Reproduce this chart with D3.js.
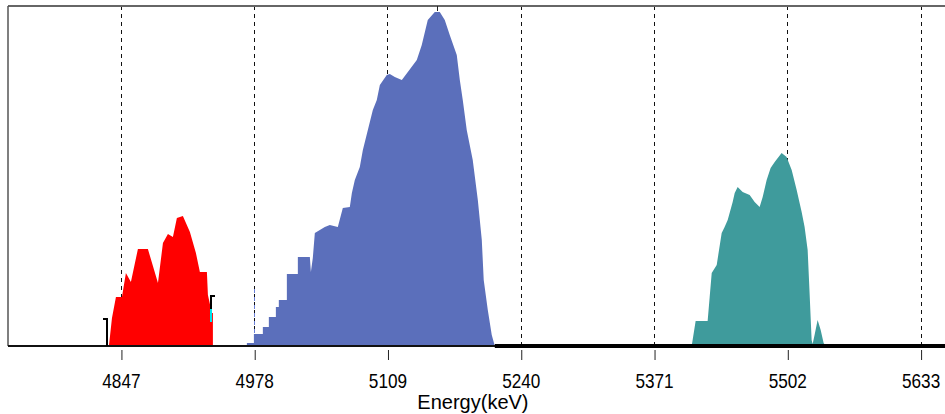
<!DOCTYPE html>
<html>
<head>
<meta charset="utf-8">
<script src="https://cdn.jsdelivr.net/npm/d3@7"></script>
<style>
  html, body { margin: 0; padding: 0; background: #fff; }
  svg { display: block; }
  text { font-family: "Liberation Sans", Arial, sans-serif; }
</style>
</head>
<body>
<svg id="chart" width="945" height="414"></svg>
<script>
// ---------- data ----------
const tickLabels = [4847, 4978, 5109, 5240, 5371, 5502, 5633];
const xTitle = "Energy(keV)";

// peak 1 (red)
const redEnergy = [4835.2, 4838.2, 4842.1, 4848.0, 4851.9, 4856.8, 4863.7, 4873.5, 4883.4, 4888.3, 4893.2, 4898.1, 4902.0, 4907.9, 4914.8, 4920.7, 4924.6, 4931.5, 4932.5, 4936.4, 4937.4, 4937.4];
const redCounts = [0, 84, 147, 147, 219, 192, 291, 291, 189, 309, 336, 327, 384, 390, 342, 279, 222, 222, 153, 99, 99, 0];

// peak 2 (blue)
const blueEnergy = [4970.8, 4970.8, 4977.7, 4977.7, 4986.5, 4986.5, 4992.4, 4992.4, 4999.3, 4999.3, 5002.2, 5002.2, 5010.1, 5010.1, 5020.9, 5020.9, 5032.7, 5033.7, 5035.6, 5037.6, 5047.4, 5052.3, 5060.2, 5065.1, 5072.0, 5074.0, 5076.9, 5081.8, 5084.8, 5089.7, 5094.6, 5098.5, 5101.5, 5108.3, 5111.3, 5116.2, 5123.1, 5129.0, 5137.8, 5142.7, 5148.6, 5155.5, 5160.4, 5165.3, 5170.2, 5177.1, 5180.1, 5183.0, 5186.9, 5192.8, 5197.8, 5201.7, 5203.6, 5207.6, 5211.5, 5214.5];
const blueCounts = [0, 9, 9, 36, 36, 57, 57, 87, 87, 117, 117, 138, 138, 216, 216, 267, 267, 222, 264, 339, 357, 363, 357, 414, 417, 459, 498, 537, 588, 648, 708, 738, 783, 813, 816, 807, 798, 822, 858, 903, 978, 1002, 1002, 978, 933, 873, 798, 738, 648, 558, 438, 318, 198, 108, 33, 0];

// peak 3 (teal)
const tealEnergy = [5408.0, 5411.9, 5423.7, 5425.7, 5427.7, 5432.6, 5437.5, 5440.4, 5443.4, 5448.3, 5450.3, 5453.2, 5458.1, 5465.0, 5469.9, 5474.8, 5477.8, 5481.7, 5485.6, 5489.6, 5496.4, 5501.3, 5506.3, 5511.2, 5516.1, 5519.0, 5522.0, 5523.9, 5525.9, 5526.9, 5528.8, 5531.8, 5534.8, 5537.7, 5539.7];
const tealCounts = [0, 75, 75, 147, 219, 243, 339, 357, 378, 432, 459, 477, 462, 453, 432, 417, 447, 498, 534, 552, 579, 567, 528, 468, 402, 357, 288, 159, 18, 6, 33, 78, 48, 9, 0];

// region-of-interest markers
const roiLeft = [4833.2, 81];          // energy, top count  ("]")
const roiRight = [4935.4, 150, 72];    // energy, top count, bottom count ("[")
const roiCyan = [4935.4, 72, 111];     // energy, from count, to count
const roiBlue = [4978, 39, 174];       // energy, from count, to count
const peakMark = 5158;                 // small marker on top border
const zeroLineStart = 5214.5;          // where the thick zero-count line begins
const titleEnergy = 5193;              // centre of the axis title

const domainX = [4736, 5657];
const domainY = [0, 1020];

// ---------- drawing ----------
const svg = d3.select("#chart");
const pLeft = 8, pRight = 945, pTop = 6, pBottom = 346;

const x = d3.scaleLinear().domain(domainX).range([pLeft, pRight]);
const y = d3.scaleLinear().domain(domainY).range([pBottom, pTop]);

// gridlines (dashed)
svg.append("g").selectAll("line").data(tickLabels).join("line")
  .attr("x1", d => Math.round(x(d)) + 0.5).attr("x2", d => Math.round(x(d)) + 0.5)
  .attr("y1", pTop).attr("y2", pBottom)
  .attr("stroke", "#111").attr("stroke-width", 1)
  .attr("stroke-dasharray", "4,4");

function drawPeak(E, C, color) {
  const pts = E.map((e, i) => [e, C[i]]);
  const area = d3.area().x(d => x(d[0])).y0(y(0)).y1(d => y(d[1])).curve(d3.curveLinear);
  svg.append("path").datum(pts).attr("d", area).attr("fill", color);
}
drawPeak(redEnergy, redCounts, "#ff0000");
drawPeak(blueEnergy, blueCounts, "#5b6fbb");
drawPeak(tealEnergy, tealCounts, "#3f9b9c");

// blue ROI dashed marker
svg.append("line")
  .attr("x1", Math.round(x(roiBlue[0])) + 0.5).attr("x2", Math.round(x(roiBlue[0])) + 0.5)
  .attr("y1", y(roiBlue[1])).attr("y2", y(roiBlue[2]))
  .attr("stroke", "#6a80d8").attr("stroke-width", 1).attr("stroke-dasharray", "4,4");

// frame: top and left
svg.append("line").attr("x1", pLeft).attr("x2", pRight).attr("y1", pTop).attr("y2", pTop)
  .attr("stroke", "#666").attr("stroke-width", 2);
svg.append("line").attr("x1", pLeft).attr("x2", pLeft).attr("y1", pTop).attr("y2", pBottom)
  .attr("stroke", "#555").attr("stroke-width", 1.5);

// bottom axis line
svg.append("line").attr("x1", pLeft).attr("x2", pRight).attr("y1", pBottom).attr("y2", pBottom)
  .attr("stroke", "#111").attr("stroke-width", 2);
svg.append("line").attr("x1", x(zeroLineStart)).attr("x2", pRight).attr("y1", pBottom).attr("y2", pBottom)
  .attr("stroke", "#000").attr("stroke-width", 4);

// ROI brackets
const lx = Math.round(x(roiLeft[0]));
svg.append("path")
  .attr("d", `M${lx - 4},${y(roiLeft[1])} H${lx} V${pBottom}`)
  .attr("fill", "none").attr("stroke", "#000").attr("stroke-width", 2);
const rx = Math.round(x(roiRight[0]));
svg.append("path")
  .attr("d", `M${rx + 4},${y(roiRight[1])} H${rx} V${y(roiRight[2])}`)
  .attr("fill", "none").attr("stroke", "#000").attr("stroke-width", 2);
svg.append("line")
  .attr("x1", rx).attr("x2", rx).attr("y1", y(roiCyan[1])).attr("y2", y(roiCyan[2]))
  .attr("stroke", "#00e5ee").attr("stroke-width", 2);

// peak marker on top border
svg.append("line").attr("x1", Math.round(x(peakMark)) + 0.5).attr("x2", Math.round(x(peakMark)) + 0.5)
  .attr("y1", pTop).attr("y2", pTop + 5).attr("stroke", "#222").attr("stroke-width", 1);

// x axis: ticks + labels
const axis = d3.axisBottom(x).tickValues(tickLabels).tickFormat(d3.format("d"))
  .tickSize(12).tickPadding(14);
const gx = svg.append("g").attr("transform", `translate(0,${pBottom + 2})`).call(axis);
gx.select(".domain").remove();
gx.selectAll(".tick line").attr("stroke", "#222").attr("stroke-dasharray", "0,2,8")
  .attr("transform", "translate(0.5,0)");
gx.selectAll(".tick text").attr("font-size", 20).attr("fill", "#000")
  .attr("font-family", "'Liberation Sans', Arial, sans-serif")
  .attr("transform", "scale(0.86,1)");

svg.append("text").attr("x", x(titleEnergy)).attr("y", 409)
  .attr("text-anchor", "middle").attr("font-size", 20).attr("fill", "#000")
  .text(xTitle);
</script>
</body>
</html>
